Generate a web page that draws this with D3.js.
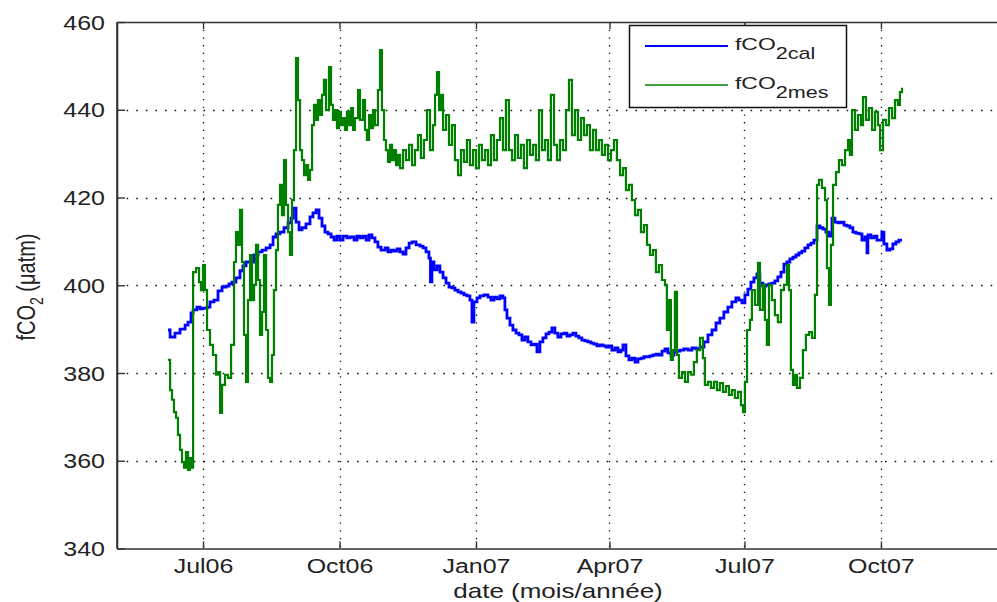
<!DOCTYPE html>
<html>
<head>
<meta charset="utf-8">
<script src="https://cdn.jsdelivr.net/npm/d3@7"></script>
<style>
  html, body { margin: 0; padding: 0; background: #fff; }
  svg { display: block; font-family: "Liberation Sans", Arial, sans-serif; }
</style>
</head>
<body>
<svg id="chart" width="997" height="602"></svg>
<script>
// ---------------- DATA ----------------
// day offsets counted from 2006-06-01 (UTC); values in µatm
const recordStart = "2006-06-01";
const xDomain = ["2006-05-04", "2007-12-27"];
const yDomain = [340, 460];
const yTicks = [340, 360, 380, 400, 420, 440, 460];
const xTickDates = ["2006-07-01", "2006-10-01", "2007-01-01", "2007-04-01", "2007-07-01", "2007-10-01"];
const xTickLabels = ["Jul06", "Oct06", "Jan07", "Apr07", "Jul07", "Oct07"];
const seriesNames = ["cal", "mes"];

// fCO2cal [day, value]
const calData = [
[6.4,389.8],[7.8,388.2],[11.1,389.1],[14.5,390.0],[17.9,390.9],[19.9,391.6],[21.9,393.7],[23.3,394.4],[25.9,395.0],[28.0,394.6],
[30.0,394.8],[32.7,395.0],[34.7,396.2],[37.4,396.6],[40.1,398.7],[42.8,399.6],[45.5,399.8],[47.5,400.3],[49.5,400.7],[52.2,401.7],
[54.9,403.3],[56.9,404.4],[59.0,405.3],[61.7,405.3],[64.4,406.9],[67.1,407.6],[69.8,408.0],[72.5,408.5],[75.2,409.2],[77.2,411.0],
[79.2,411.7],[81.9,412.1],[84.6,413.1],[87.3,414.2],[89.3,415.3],[90.7,417.6],[92.7,414.4],[94.7,412.6],[96.7,413.1],[99.4,414.0],
[102.1,415.6],[104.1,416.5],[106.2,417.2],[108.2,415.3],[110.2,413.5],[112.2,412.1],[114.2,411.7],[116.3,411.0],[118.3,410.3],[120.3,411.2],
[122.3,410.3],[124.4,411.2],[127.0,410.8],[129.1,411.0],[131.8,410.3],[133.8,411.2],[135.8,410.8],[137.8,411.2],[139.9,410.3],[141.9,411.5],
[143.9,410.8],[145.9,409.9],[147.9,408.7],[150.0,408.0],[152.7,408.5],[154.7,407.6],[156.7,408.0],[158.7,407.8],[160.8,408.3],[162.8,407.6],
[164.8,407.1],[166.8,408.5],[168.9,409.6],[170.9,409.9],[173.6,409.2],[176.3,408.9],[178.3,408.5],[180.3,407.6],[182.3,406.2],[183.3,400.8],
[184.3,405.3],[185.7,403.5],[187.7,404.4],[189.7,403.0],[191.8,401.7],[193.8,400.5],[195.8,399.6],[197.8,399.4],[199.8,398.9],[201.9,398.5],
[203.9,398.2],[205.9,397.8],[207.9,397.6],[209.9,396.6],[211.3,391.6],[212.6,396.2],[214.7,397.1],[216.7,397.6],[219.4,397.8],[222.1,397.3],
[224.1,396.6],[226.1,397.3],[228.1,396.9],[230.2,397.6],[232.2,397.1],[233.5,394.4],[234.9,392.5],[236.9,390.9],[238.9,389.8],[241.0,389.1],
[243.0,388.7],[245.0,387.5],[247.0,388.2],[249.0,387.1],[251.1,386.4],[253.1,386.6],[255.1,384.8],[257.1,387.1],[259.1,388.0],[261.2,388.9],
[263.2,389.3],[265.2,390.3],[267.2,389.1],[269.2,388.2],[271.3,388.9],[273.3,389.1],[275.3,388.4],[277.3,388.7],[279.3,389.1],[281.4,388.4],
[283.4,388.0],[285.4,387.5],[287.4,387.3],[289.4,387.1],[291.5,386.8],[293.5,386.6],[295.5,386.2],[297.5,386.4],[299.6,386.2],[301.6,385.9],
[303.6,386.2],[305.6,385.2],[307.7,385.7],[309.7,384.8],[311.7,385.2],[313.1,386.4],[315.1,383.9],[317.1,383.0],[319.1,383.4],[321.2,382.5],
[323.2,383.2],[325.2,383.4],[327.2,383.7],[329.3,383.7],[331.3,383.9],[333.3,384.1],[335.3,384.3],[337.3,384.1],[339.4,385.0],[341.4,385.5],
[343.4,384.6],[345.4,384.1],[347.5,384.8],[349.5,385.0],[351.5,385.2],[354.2,385.5],[356.9,385.2],[359.6,385.7],[362.3,385.5],[365.0,385.9],
[367.7,387.1],[370.4,388.7],[373.1,389.8],[375.8,391.4],[378.4,392.5],[381.1,393.9],[383.8,395.0],[386.5,396.2],[389.2,397.1],[391.2,396.6],
[393.3,396.0],[395.3,397.8],[397.3,399.1],[399.3,400.7],[401.4,401.7],[403.4,402.6],[405.4,400.5],[407.4,399.8],[409.5,400.1],[411.5,400.3],
[413.5,400.5],[415.5,401.0],[417.5,401.9],[419.6,403.0],[421.6,404.8],[423.6,405.3],[425.6,406.0],[427.7,406.4],[429.7,406.9],[431.7,407.4],
[433.7,407.8],[435.7,408.5],[437.8,409.2],[439.8,409.6],[441.8,410.3],[443.9,413.5],[445.9,413.1],[447.9,412.8],[449.9,412.1],[452.0,411.2],
[454.0,415.3],[456.0,414.4],[458.0,414.2],[460.0,414.4],[462.1,413.7],[464.1,413.5],[466.1,413.1],[468.1,412.1],[470.1,411.9],[472.2,411.7],
[474.2,410.3],[476.2,411.0],[477.6,407.4],[478.2,411.5],[480.2,410.8],[482.3,411.2],[484.3,410.3],[486.3,410.3],[487.6,412.1],[489.0,409.4],
[491.0,408.0],[493.0,408.3],[495.0,409.4],[497.1,409.9],[499.1,410.3],[501.2,410.3]
];

// fCO2mes [day, value]
const mesData = [
[6.4,383.0],[7.8,376.1],[9.1,373.9],[10.4,371.1],[11.8,369.8],[13.1,365.9],[14.5,362.5],[15.8,359.7],[17.2,358.4],[18.5,362.0],
[19.9,357.9],[21.2,360.6],[22.6,358.4],[23.3,403.0],[25.3,403.9],[27.3,400.7],[28.6,398.9],[30.0,404.6],[31.3,398.9],[32.7,389.8],
[34.7,386.4],[36.7,384.1],[38.8,379.6],[40.1,380.2],[41.5,370.9],[42.8,377.3],[44.8,379.6],[46.8,378.9],[48.9,386.4],[50.9,405.3],
[52.2,412.1],[53.6,409.2],[54.9,417.2],[56.3,405.3],[57.6,388.7],[59.0,378.0],[60.3,396.6],[61.7,406.9],[63.0,396.6],[64.4,400.1],
[65.7,409.2],[67.1,401.2],[68.4,388.7],[69.8,393.9],[71.1,406.9],[72.5,389.8],[73.8,378.9],[75.2,378.0],[76.5,384.1],[77.8,398.9],
[79.2,408.0],[80.5,418.3],[81.9,422.9],[83.2,416.0],[84.6,428.5],[85.9,418.3],[87.3,412.1],[88.6,406.9],[90.0,419.4],[91.3,430.8],
[92.7,451.8],[94.0,442.2],[95.4,430.8],[96.7,428.5],[98.1,425.1],[99.4,427.4],[100.8,424.0],[102.1,426.3],[103.5,436.5],[104.8,441.1],
[106.2,437.7],[107.5,442.2],[108.9,438.8],[110.2,443.4],[111.5,446.8],[112.9,439.9],[114.9,449.7],[116.3,441.1],[117.6,437.7],[119.0,439.9],
[120.3,435.8],[121.7,439.5],[123.0,436.5],[124.4,438.1],[125.7,435.4],[127.0,439.5],[128.4,436.5],[129.7,440.4],[131.1,435.4],[132.4,438.1],
[134.5,444.5],[135.8,437.7],[137.8,442.2],[139.2,435.4],[140.5,433.1],[141.9,438.8],[143.2,435.8],[144.6,439.9],[145.9,436.5],[147.9,444.5],
[149.3,453.6],[150.6,439.9],[152.0,433.1],[153.3,430.8],[154.7,428.1],[156.0,432.0],[157.4,428.5],[158.7,430.8],[160.1,427.4],[161.4,429.7],
[162.8,426.7],[164.8,430.8],[166.8,428.5],[168.9,432.0],[170.9,427.4],[172.9,430.8],[174.9,434.2],[176.9,429.0],[178.9,433.1],[181.0,439.9],
[183.0,430.8],[185.0,436.5],[186.4,443.4],[187.7,448.6],[189.1,439.9],[190.4,443.4],[191.8,435.4],[193.8,438.8],[195.8,432.0],[197.8,436.5],
[199.8,428.5],[201.9,425.1],[203.9,430.8],[205.9,428.1],[207.9,433.1],[209.9,427.4],[212.0,430.8],[214.0,426.7],[216.0,432.0],[218.0,428.5],
[220.1,430.8],[222.1,427.4],[224.1,434.2],[226.1,428.5],[228.1,433.1],[230.2,438.1],[232.2,430.8],[234.2,442.2],[236.2,430.8],[238.3,428.5],
[240.3,434.2],[242.3,429.0],[244.3,432.0],[246.3,426.7],[248.4,433.1],[250.4,429.7],[252.4,432.0],[254.4,428.5],[256.5,439.9],[258.5,430.8],
[260.5,433.1],[262.5,428.5],[264.5,443.4],[266.6,432.0],[268.6,428.5],[270.6,433.1],[272.6,430.8],[274.7,439.9],[276.7,446.8],[278.7,434.2],
[280.7,439.9],[282.7,433.1],[284.8,438.1],[286.8,434.2],[288.8,436.5],[290.8,430.8],[292.9,435.4],[294.9,430.8],[296.9,433.1],[298.9,429.7],
[300.9,432.0],[303.0,428.5],[305.0,430.8],[307.0,433.1],[309.0,428.5],[311.1,425.1],[313.1,426.7],[315.1,421.7],[317.1,422.9],[319.1,419.4],
[321.2,416.0],[323.2,417.2],[325.2,412.1],[327.2,413.7],[329.3,409.2],[331.3,406.9],[333.3,408.0],[335.3,403.0],[337.3,404.6],[339.4,401.2],
[341.4,400.1],[342.7,389.8],[344.1,396.6],[345.4,383.0],[346.8,385.2],[348.1,398.5],[349.5,384.1],[350.8,378.9],[352.8,380.2],[354.9,378.0],
[356.9,380.2],[358.9,379.6],[360.9,382.5],[362.9,385.2],[365.0,388.0],[367.0,383.4],[368.3,377.3],[370.4,378.0],[372.4,376.6],[374.4,378.0],
[376.4,376.1],[378.4,377.7],[380.5,375.7],[382.5,377.0],[384.5,375.0],[386.5,376.1],[388.5,374.3],[390.6,375.7],[392.6,372.7],[394.0,371.1],
[395.3,378.0],[396.7,389.8],[398.7,392.1],[400.0,398.9],[402.0,395.5],[404.1,405.1],[405.4,394.4],[407.4,400.1],[408.8,392.1],[410.1,386.4],
[411.5,400.1],[413.5,396.6],[415.5,393.2],[417.5,391.6],[419.6,398.9],[421.6,400.1],[423.6,404.6],[425.0,398.9],[426.3,380.7],[427.7,377.3],
[429.0,379.6],[430.4,376.6],[432.4,378.9],[434.4,385.2],[436.4,388.7],[438.5,389.3],[440.5,388.0],[442.5,397.8],[443.9,422.9],[445.2,424.0],
[447.2,422.2],[449.3,419.4],[450.6,403.9],[452.0,395.5],[453.3,409.2],[454.7,422.9],[456.7,425.8],[458.7,428.5],[460.7,427.4],[462.8,430.8],
[464.8,433.1],[466.1,429.7],[467.5,439.9],[469.5,435.4],[471.5,438.8],[473.5,436.5],[474.9,442.9],[476.9,437.7],[478.9,440.4],[481.0,435.4],
[483.0,439.5],[485.0,436.5],[486.4,430.8],[488.4,437.7],[490.4,436.5],[492.4,440.4],[494.5,438.1],[496.5,442.2],[498.5,441.1],[499.8,444.0],
[501.2,445.0]
];

// ---------------- DRAW ----------------
const svg = d3.select("#chart");
const W = 997, H = 602;
const plot = { left: 117, right: 1010, top: 22, bottom: 548.5 };
const stretch = 1.25; // horizontal stretch of the original rendering

const parse = s => new Date(s + "T00:00:00Z");
const base = parse(recordStart).getTime();
const toDate = d => new Date(base + d * 86400000);

const x = d3.scaleUtc().domain(xDomain.map(parse)).range([plot.left, plot.right]);
const y = d3.scaleLinear().domain(yDomain).range([plot.bottom, plot.top]);

svg.append("rect").attr("width", W).attr("height", H).attr("fill", "#fff");

svg.append("defs").append("clipPath").attr("id", "plotclip")
  .append("rect").attr("x", plot.left).attr("y", plot.top)
  .attr("width", plot.right - plot.left).attr("height", plot.bottom - plot.top);

// grid
const grid = svg.append("g").attr("stroke", "#111").attr("stroke-width", 1.3);
grid.selectAll("line.v").data(xTickDates.map(parse)).join("line")
  .attr("x1", d => Math.round(x(d)) + 0.5).attr("x2", d => Math.round(x(d)) + 0.5)
  .attr("y1", plot.top).attr("y2", plot.bottom)
  .attr("stroke-dasharray", "1.3,6.4");
grid.selectAll("line.h").data(yTicks.slice(1, -1)).join("line")
  .attr("x1", plot.left).attr("x2", plot.right)
  .attr("y1", d => Math.round(y(d)) + 0.5).attr("y2", d => Math.round(y(d)) + 0.5)
  .attr("stroke-dasharray", "1.6,8");

// series (stepped, like densely sampled raw data)
const line = d3.line().curve(d3.curveStepAfter)
  .x(d => x(toDate(d[0]))).y(d => y(d[1]));
const lines = svg.append("g").attr("clip-path", "url(#plotclip)").attr("fill", "none")
  .attr("stroke-linejoin", "miter");
lines.append("path").datum(calData).attr("d", line)
  .attr("stroke", "#0000ff").attr("stroke-width", 2.8);
lines.append("path").datum(mesData).attr("d", line)
  .attr("stroke", "#008000").attr("stroke-width", 2.2);

// axes
const axisColor = "#333";
const xAxis = svg.append("g").attr("transform", `translate(0,${plot.bottom})`)
  .call(d3.axisBottom(x).tickValues(xTickDates.map(parse))
    .tickFormat((d, i) => xTickLabels[i]).tickSizeInner(-7).tickSizeOuter(0).tickPadding(10));
const xTop = svg.append("g").attr("transform", `translate(0,${plot.top})`)
  .call(d3.axisTop(x).tickValues(xTickDates.map(parse)).tickFormat("")
    .tickSizeInner(-7).tickSizeOuter(0));
const yAxis = svg.append("g").attr("transform", `translate(${plot.left},0)`)
  .call(d3.axisLeft(y).tickValues(yTicks).tickFormat(d3.format("d"))
    .tickSizeInner(-8).tickSizeOuter(0));

[xAxis, xTop, yAxis].forEach(g => {
  g.select(".domain").attr("stroke", axisColor).attr("stroke-width", 1.6);
  g.selectAll(".tick line").attr("stroke", axisColor).attr("stroke-width", 1.4);
  g.selectAll("text").attr("font-family", "Liberation Sans, Arial, sans-serif")
    .attr("font-size", 20).attr("fill", "#222");
});
xAxis.selectAll(".tick text").attr("transform", `scale(${stretch},1)`);
yAxis.selectAll(".tick text").attr("x", -12 / stretch).attr("dy", "0.36em")
  .attr("transform", `scale(${stretch},1)`);

svg.append("line").attr("x1", plot.left).attr("x2", plot.left)
  .attr("y1", plot.top).attr("y2", plot.bottom)
  .attr("stroke", axisColor).attr("stroke-width", 1.6);

// axis labels
svg.append("text")
  .attr("transform", `translate(558,597.5) scale(${stretch + 0.05},1)`)
  .attr("text-anchor", "middle").attr("font-size", 20).attr("fill", "#222")
  .text("date (mois/année)");

const yl = svg.append("text")
  .attr("transform", `translate(35,287) scale(${stretch},1) rotate(-90)`)
  .attr("text-anchor", "middle").attr("font-size", 20).attr("fill", "#222");
yl.append("tspan").text("fCO");
yl.append("tspan").attr("dy", 6).attr("font-size", 14).text("2");
yl.append("tspan").attr("dy", -6).text(" (μatm)");

// legend
const leg = svg.append("g");
leg.append("rect").attr("x", 629.5).attr("y", 25.5).attr("width", 217).attr("height", 82)
  .attr("fill", "#fff").attr("stroke", "#111").attr("stroke-width", 1.5);
const legColors = ["#0000ff", "#008000"];
const legRowY = [46, 85];
seriesNames.forEach((name, i) => {
  leg.append("line").attr("x1", 645).attr("x2", 728)
    .attr("y1", legRowY[i]).attr("y2", legRowY[i])
    .attr("stroke", legColors[i]).attr("stroke-width", i === 0 ? 1.8 : 1.6);
  const t = leg.append("text")
    .attr("transform", `translate(735,${legRowY[i] + 3.5}) scale(1.35,1)`)
    .attr("font-size", 17).attr("fill", "#222");
  t.append("tspan").text("fCO");
  t.append("tspan").attr("dy", 9).attr("font-size", 16).text("2" + name);
});
</script>
</body>
</html>
